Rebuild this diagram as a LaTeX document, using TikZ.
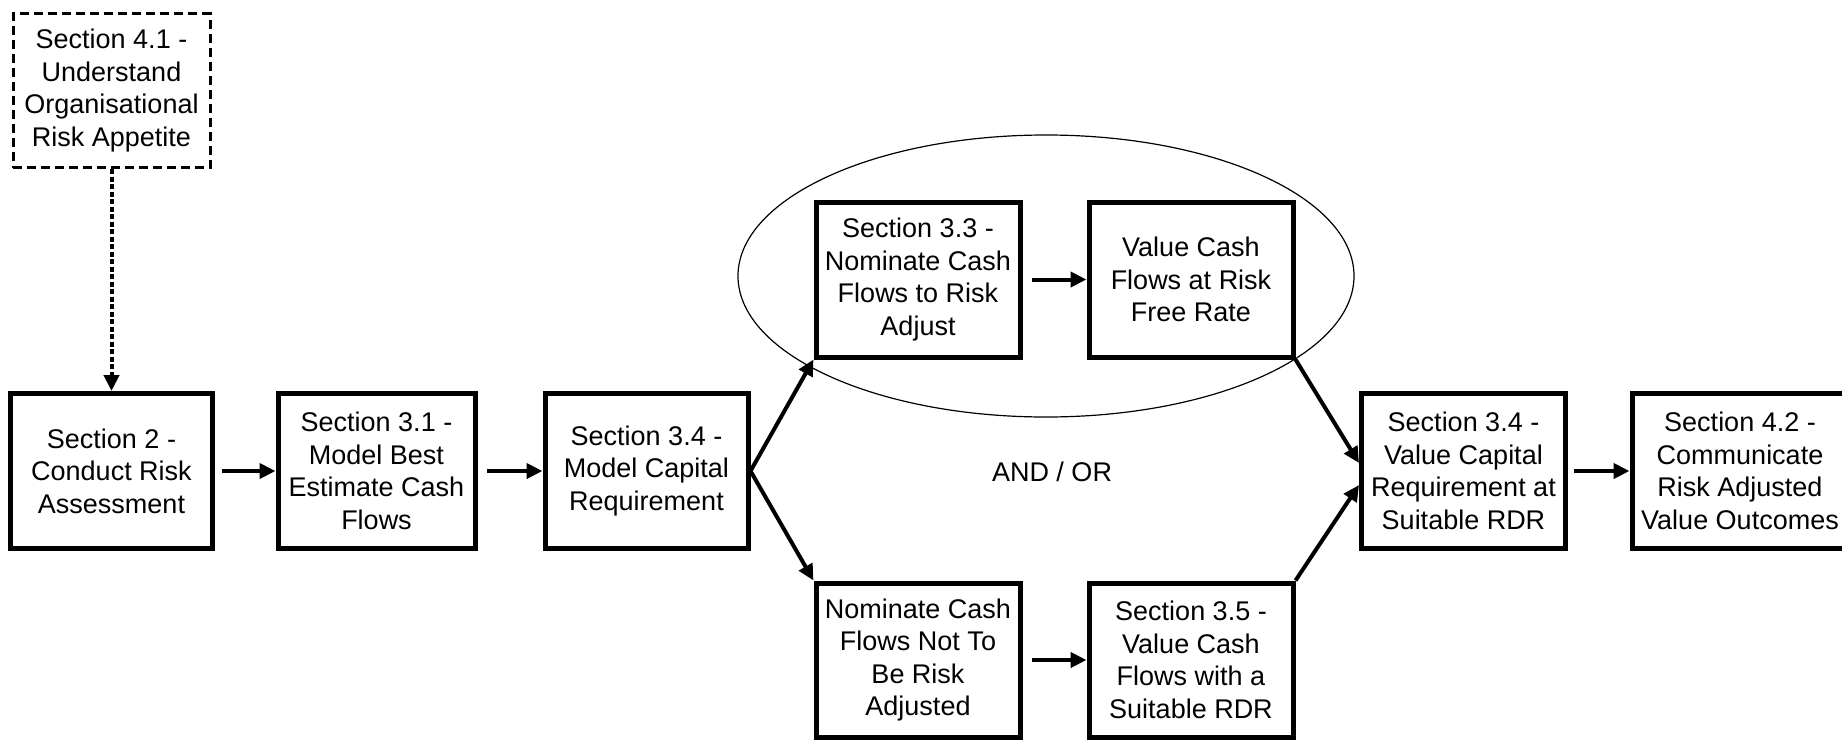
\documentclass[tikz,border=0pt]{standalone}
\usepackage{fontspec}
\setmainfont{Liberation Sans}
\usetikzlibrary{arrows.meta}

\begin{document}
\begin{tikzpicture}[x=1pt, y=-1pt,
  every node/.style={font=\fontsize{27}{32.5}\selectfont, align=center, inner sep=0pt},
  stepbox/.style={draw, line width=5pt, fill=white, minimum width=202pt, minimum height=155pt},
  dashbox/.style={draw, line width=3pt, dash pattern=on 9pt off 5pt, fill=white,
                  minimum width=197pt, minimum height=154pt},
  flow/.style={line width=4pt, -{Triangle[length=16pt, width=15pt]}},
  dashflow/.style={flow, dash pattern=on 5pt off 2.5pt},
]
\useasboundingbox (0,0) rectangle (1842,739);

% grouping ellipse round the risk-free branch
\draw[line width=1.2pt] (1046,276) ellipse [x radius=308, y radius=141];

% process steps
\node[dashbox]  (s41)  at (111.5,90.5) {Section 4.1 -\\Understand\\Organisational\\Risk Appetite};
\node[stepbox]  (s2)   at (111.5,471)  {Section 2 -\\Conduct Risk\\Assessment};
\node[stepbox, minimum width=197pt] (s31) at (376.5,471) {Section 3.1 -\\Model Best\\Estimate Cash\\Flows};
\node[stepbox, minimum width=203pt] (s34m) at (646.5,471) {Section 3.4 -\\Model Capital\\Requirement};
\node[stepbox, minimum width=204pt] (s33) at (918,279.5) {Section 3.3 -\\Nominate Cash\\Flows to Risk\\Adjust};
\node[stepbox, minimum width=204pt] (vrf) at (1191,279.5) {Value Cash\\Flows at Risk\\Free Rate};
\node[stepbox, minimum width=204pt, minimum height=154pt] (ncf) at (918,660) {Nominate Cash\\Flows Not To\\Be Risk\\Adjusted};
\node[stepbox, minimum width=204pt, minimum height=154pt] (s35) at (1191,660) {Section 3.5 -\\Value Cash\\Flows with a\\Suitable RDR};
\node[stepbox, minimum width=204pt] (s34v) at (1463.5,471) {Section 3.4 -\\Value Capital\\Requirement at\\Suitable RDR};
\node[stepbox, minimum width=216pt] (s42) at (1740,471) {Section 4.2 -\\Communicate\\Risk Adjusted\\Value Outcomes};

\node (andor) at (1052,472) {AND / OR};

% connectors
\draw[dashflow] (s41.south) -- (s2.north);
\draw[flow] ([xshift=7pt]s2.east) -- (s31.west);
\draw[flow] ([xshift=9pt]s31.east) -- (s34m.west);
\draw[flow] (s34m.east) -- (s33.south west);
\draw[flow] (s34m.east) -- (ncf.north west);
\draw[flow] ([xshift=9pt]s33.east) -- (vrf.west);
\draw[flow] ([xshift=9pt]ncf.east) -- (s35.west);
\draw[flow] (vrf.south east) -- ([yshift=8pt]s34v.west);
\draw[flow] (s35.north east) -- ([yshift=-14pt]s34v.west);
\draw[flow] ([xshift=6pt]s34v.east) -- (s42.west);
\end{tikzpicture}
\end{document}
